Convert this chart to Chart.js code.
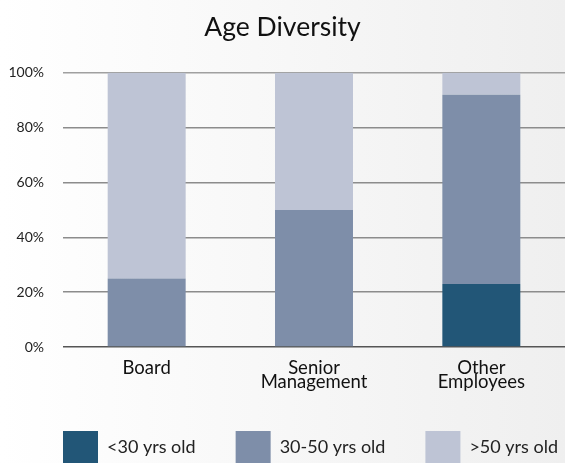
<!DOCTYPE html>
<html>
<head>
<meta charset="utf-8">
<title>Age Diversity</title>
<script src="https://cdn.jsdelivr.net/npm/chart.js@4.4.0/dist/chart.umd.min.js"></script>
<style>
  html, body { margin: 0; padding: 0; overflow: hidden; }
  body {
    width: 565px;
    height: 463px;
    background: linear-gradient(to right, #ffffff 0%, #f8f8f8 45%, #efefef 100%);
  }
  canvas { display: block; }
</style>
</head>
<body>
<canvas id="ageChart" width="565" height="463"></canvas>
<script>
// categories and stacked shares (percent)
const categories = [['Board'], ['Senior', 'Management'], ['Other', 'Employees']];
const under30 = [0, 0, 23];
const from30to50 = [25, 50, 69];
const over50 = [75, 50, 8];
const seriesLabels = ['<30 yrs old', '30-50 yrs old', '>50 yrs old'];
const seriesColors = ['#225677', '#7e8ea9', '#bec4d5'];
const yTicks = [0, 20, 40, 60, 80, 100];

const FONT = 'Lato, "Noto Sans", sans-serif';

// legend drawn along the bottom edge, big square swatches
const bottomLegend = {
  id: 'bottomLegend',
  afterDraw(chart) {
    const ctx = chart.ctx;
    const box = 35, gap = 9, spacing = 40, top = 431;
    let x = chart.chartArea.left;
    ctx.save();
    ctx.font = '18px ' + FONT;
    ctx.textBaseline = 'middle';
    chart.data.datasets.forEach(ds => {
      ctx.fillStyle = ds.backgroundColor;
      ctx.fillRect(x, top, box, box);
      ctx.fillStyle = '#222';
      ctx.fillText(ds.label, x + box + gap, top + 16);
      x += box + gap + ctx.measureText(ds.label).width + spacing;
    });
    ctx.restore();
  }
};

const ctx = document.getElementById('ageChart').getContext('2d');

new Chart(ctx, {
  type: 'bar',
  data: {
    labels: categories,
    datasets: [
      { label: seriesLabels[0], data: under30, backgroundColor: seriesColors[0] },
      { label: seriesLabels[1], data: from30to50, backgroundColor: seriesColors[1] },
      { label: seriesLabels[2], data: over50, backgroundColor: seriesColors[2] }
    ]
  },
  options: {
    responsive: false,
    animation: false,
    devicePixelRatio: 1,
    layout: { padding: { left: 0, right: 0, top: 0, bottom: 66 } },
    datasets: {
      bar: { barPercentage: 0.466, categoryPercentage: 1, borderWidth: 0 }
    },
    plugins: {
      legend: { display: false },
      tooltip: { enabled: false },
      title: {
        display: true,
        text: 'Age Diversity',
        color: '#111',
        font: { family: FONT, size: 26.5, weight: 'normal' },
        padding: { top: 12, bottom: 29 }
      }
    },
    scales: {
      x: {
        stacked: true,
        grid: { display: false },
        border: { display: false },
        ticks: {
          color: '#111',
          font: { family: FONT, size: 18.5, lineHeight: 0.75 },
          padding: 6,
          maxRotation: 0,
          autoSkip: false
        },
        afterFit: s => { s.height = 50; }
      },
      y: {
        stacked: true,
        min: 0,
        max: 100,
        border: { display: false },
        grid: {
          drawTicks: false,
          lineWidth: 1.5,
          // baseline a bit darker, top line a bit lighter
          color: c => {
            if (!c.tick) return '#8c8c8c';
            if (c.tick.value === 0) return '#555';
            if (c.tick.value === 100) return '#a0a0a0';
            return '#8c8c8c';
          }
        },
        ticks: {
          color: '#222',
          font: { family: FONT, size: 14 },
          padding: 19,
          callback: v => v + '%'
        },
        afterBuildTicks: s => { s.ticks = yTicks.map(v => ({ value: v })); },
        afterFit: s => { s.width = 63; }
      }
    }
  },
  plugins: [bottomLegend]
});
</script>
</body>
</html>
